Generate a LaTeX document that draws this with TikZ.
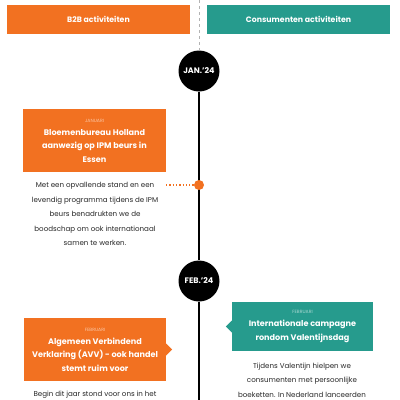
\documentclass[tikz,border=0pt]{standalone}
\usepackage{fontspec}
\setmainfont{Poppins}
\usetikzlibrary{calc}
\definecolor{orng}{RGB}{242,113,33}
\definecolor{tealc}{RGB}{38,155,141}
\definecolor{txt}{RGB}{40,40,40}
\newcommand\mlab[2]{{\fontsize{4.6}{5}\selectfont\mdseries\color{#1!40!white}#2}}
\begin{document}
\begin{tikzpicture}[x=1pt,y=-1pt,
  header/.style={minimum width=183pt,minimum height=29pt,inner sep=0pt,text=white,font=\fontsize{7.8}{9}\selectfont\bfseries},
  month/.style={circle,fill=black,minimum size=41pt,inner sep=0pt,text=white,font=\fontsize{8}{9}\selectfont\bfseries},
  card/.style={inner sep=0pt,align=center,text=white,font=\fontsize{8.1}{13.3}\selectfont\bfseries},
  body/.style={inner sep=0pt,align=center,text=txt,font=\fontsize{7.1}{14.5}\selectfont}]
\useasboundingbox (0,0) rectangle (400,400);
\fill[white] (0,0) rectangle (400,400);
\node[header,fill=orng] (h1) at (98.5,19.5) {B2B activiteiten};
\node[header,fill=tealc] (h2) at (298.5,19.5) {Consumenten activiteiten};
\node[month] (jan) at (199,71) {JAN.'24};
\node[month] (feb) at (199,281) {FEB.'24};
\coordinate (top) at (199,0);
\coordinate (bot) at (199,400);
\draw[gray!60,dashed,line width=0.6pt] (top) -- (jan.north);
\draw[black,line width=1.5pt] (jan.south) -- (feb.north);
\draw[black,line width=1.5pt] (feb.south) -- (bot);
% Card 1
\node[card,fill=orng,minimum width=143pt,minimum height=63pt] (c1) at (94.5,140.5)
  {\mlab{orng}{JANUARI}\\Bloemenbureau Holland\\aanwezig op IPM beurs in\\Essen};
\node[body] (t1) at (95,214) {Met een opvallende stand en een\\levendig programma tijdens de IPM\\beurs benadrukten we de\\boodschap om ook internationaal\\samen te werken.};
\coordinate (d1) at (166,185);
\node[circle,fill=orng,minimum size=10pt,inner sep=0pt] (dot1) at (199,185) {};
\draw[orng,dotted,line width=1.3pt] (d1) -- (dot1);
% Card 2
\node[card,fill=orng,minimum width=142pt,minimum height=63pt] (c2) at (95,349.5)
  {\mlab{orng}{FEBRUARI}\\Algemeen Verbindend\\Verklaring (AVV) - ook handel\\stemt ruim voor};
\fill[orng] ($(c2.east)+(0,-6)$) -- ($(c2.east)+(6,0)$) -- ($(c2.east)+(0,6)$) -- cycle;
\node[body] (t2) at (95,395) {Begin dit jaar stond voor ons in het};
% Card 3
\node[card,fill=tealc,minimum width=141pt,minimum height=49pt] (c3) at (302.5,326.5)
  {\mlab{tealc}{FEBRUARI}\\Internationale campagne\\rondom Valentijnsdag};
\fill[tealc] ($(c3.west)+(0,-6)$) -- ($(c3.west)+(-6,0)$) -- ($(c3.west)+(0,6)$) -- cycle;
\node[body] (t3) at (302,380) {Tijdens Valentijn hielpen we\\consumenten met persoonlijke\\boeketten. In Nederland lanceerden};
\end{tikzpicture}
\end{document}
